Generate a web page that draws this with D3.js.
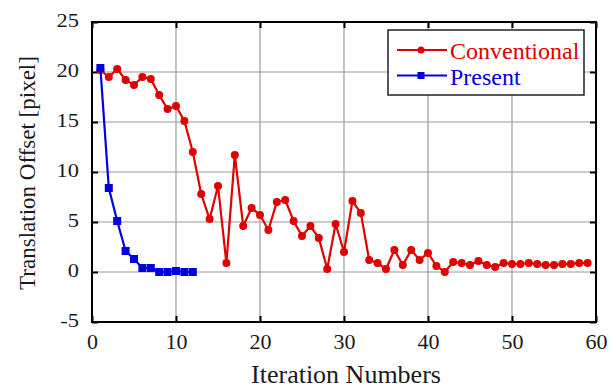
<!DOCTYPE html>
<html>
<head>
<meta charset="utf-8">
<script src="https://cdn.jsdelivr.net/npm/d3@7"></script>
<style>
  body { margin: 0; background: #fff; }
  svg text { font-family: "Liberation Serif", "DejaVu Serif", serif; }
</style>
</head>
<body>
<svg id="chart" width="616" height="389"></svg>
<script>
// values
var conventionalIter = d3.range(1, 60);
var conventional = [20.2, 19.5, 20.3, 19.2, 18.7, 19.5, 19.3, 17.7, 16.3, 16.6,
  15.1, 12.0, 7.8, 5.3, 8.6, 0.9, 11.7, 4.6, 6.4, 5.7,
  4.2, 7.0, 7.2, 5.1, 3.6, 4.6, 3.4, 0.3, 4.8, 2.0,
  7.1, 5.9, 1.2, 0.9, 0.3, 2.2, 0.7, 2.2, 1.2, 1.9,
  0.6, 0.0, 1.0, 0.9, 0.7, 1.1, 0.7, 0.5, 0.9, 0.8,
  0.8, 0.9, 0.8, 0.7, 0.7, 0.8, 0.8, 0.9, 0.9];
var presentIter = d3.range(1, 13);
var present = [20.4, 8.4, 5.1, 2.1, 1.3, 0.4, 0.4, 0.0, 0.0, 0.1, 0.0, 0.0];
var xTicks = [0, 10, 20, 30, 40, 50, 60];
var yTicks = [-5, 0, 5, 10, 15, 20, 25];

var margin = { top: 22, right: 20, bottom: 67, left: 92 },
  width = 596 - margin.left,
  height = 322 - margin.top;

var root = d3.select("#chart");
var svg = root
  .append("g")
  .attr("transform", "translate(" + margin.left + "," + margin.top + ")");

var x = d3.scaleLinear().domain([0, 60]).range([0, width]);
var y = d3.scaleLinear().domain([-5, 25]).range([height, 0]);
var fmt = d => String(d); // plain hyphen for negatives

// grid
svg.append("g")
  .selectAll("line")
  .data(xTicks.slice(1, -1))
  .enter()
  .append("line")
  .attr("x1", d => x(d)).attr("x2", d => x(d))
  .attr("y1", 0).attr("y2", height)
  .attr("stroke", "#9a9a9a").attr("stroke-width", 1.2);
svg.append("g")
  .selectAll("line")
  .data(yTicks.slice(1, -1))
  .enter()
  .append("line")
  .attr("x1", 0).attr("x2", width)
  .attr("y1", d => y(d)).attr("y2", d => y(d))
  .attr("stroke", "#9a9a9a").attr("stroke-width", 1.2);

// axes with inward ticks on all four sides
function styleAxis(g) {
  g.attr("font-family", null).attr("font-size", null);
  g.select(".domain").remove();
  g.selectAll(".tick line").attr("stroke", "#000").attr("stroke-width", 2);
  g.selectAll(".tick text").attr("fill", "#1a1a1a");
}
var xAxis = svg.append("g")
  .attr("transform", "translate(0," + height + ")")
  .call(d3.axisBottom(x).tickValues(xTicks).tickFormat(fmt).tickSizeInner(-6).tickPadding(0))
  .call(styleAxis);
xAxis.selectAll(".tick text").attr("font-size", 22).attr("dy", null).attr("y", 27);

svg.append("g")
  .call(d3.axisTop(x).tickValues(xTicks).tickSizeInner(-6).tickFormat(""))
  .call(styleAxis);

var yAxis = svg.append("g")
  .call(d3.axisLeft(y).tickValues(yTicks).tickFormat(fmt).tickSizeInner(-6).tickPadding(0))
  .call(styleAxis);
// labels in the picture are a little wide for their height
yAxis.selectAll(".tick text")
  .attr("font-size", 19)
  .attr("x", -13 / 1.18)
  .attr("dy", "0.25em")
  .attr("transform", "scale(1.18,1)");

svg.append("g")
  .attr("transform", "translate(" + width + ",0)")
  .call(d3.axisRight(y).tickValues(yTicks).tickSizeInner(-6).tickFormat(""))
  .call(styleAxis);

svg.append("rect")
  .attr("width", width).attr("height", height)
  .attr("fill", "none").attr("stroke", "#000").attr("stroke-width", 2);

// series
var line = d3.line().x(d => x(d[0])).y(d => y(d[1]));
var red = "#e00000", blue = "#0000dd";
var convPts = conventionalIter.map((d, i) => [d, conventional[i]]);
var presPts = presentIter.map((d, i) => [d, present[i]]);

svg.append("path").datum(convPts).attr("d", line)
  .attr("fill", "none").attr("stroke", red).attr("stroke-width", 2.2);
svg.selectAll("circle.conv").data(convPts).enter().append("circle")
  .attr("class", "conv")
  .attr("cx", d => x(d[0])).attr("cy", d => y(d[1])).attr("r", 4)
  .attr("fill", red);

svg.append("path").datum(presPts).attr("d", line)
  .attr("fill", "none").attr("stroke", blue).attr("stroke-width", 2.2);
svg.selectAll("rect.pres").data(presPts).enter().append("rect")
  .attr("class", "pres")
  .attr("x", d => x(d[0]) - 4).attr("y", d => y(d[1]) - 4)
  .attr("width", 8).attr("height", 8)
  .attr("fill", blue);

// legend
var lg = root.append("g").attr("transform", "translate(388,30)");
lg.append("rect").attr("width", 196).attr("height", 65)
  .attr("fill", "#fff").attr("stroke", "#222").attr("stroke-width", 1.5);
[["Conventional", red, "c"], ["Present", blue, "s"]].forEach(function (s, i) {
  var yy = 20 + i * 25.5;
  lg.append("line").attr("x1", 9).attr("x2", 59).attr("y1", yy).attr("y2", yy)
    .attr("stroke", s[1]).attr("stroke-width", 2);
  if (s[2] == "c") lg.append("circle").attr("cx", 33).attr("cy", yy).attr("r", 3.5).attr("fill", s[1]);
  else lg.append("rect").attr("x", 29.5).attr("y", yy - 3.5).attr("width", 7).attr("height", 7).attr("fill", s[1]);
  lg.append("text").attr("x", 62).attr("y", yy + 9).attr("font-size", 24)
    .attr("fill", s[1]).text(s[0]);
});

// titles
root.append("text")
  .attr("x", 346).attr("y", 383).attr("text-anchor", "middle")
  .attr("font-size", 26).attr("fill", "#1a1a1a").text("Iteration Numbers");
root.append("text")
  .attr("transform", "translate(35,173) rotate(-90)")
  .attr("text-anchor", "middle")
  .attr("font-size", 23).attr("fill", "#1a1a1a").text("Translation Offset [pixel]");
</script>
</body>
</html>
